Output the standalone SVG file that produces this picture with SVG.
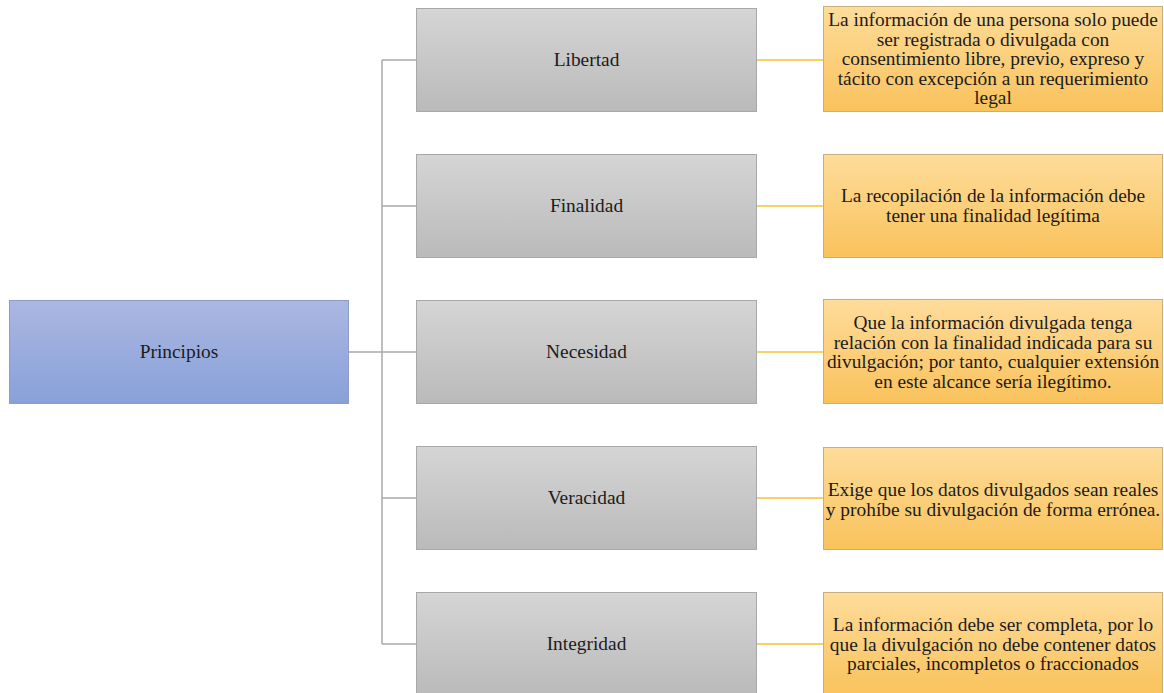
<svg xmlns="http://www.w3.org/2000/svg" width="1164" height="693" viewBox="0 0 1164 693">
<defs>
<linearGradient id="gBlue" x1="0" y1="0" x2="0" y2="1"><stop offset="0" stop-color="#abb7e2"/><stop offset="1" stop-color="#88a1d8"/></linearGradient>
<linearGradient id="gGray" x1="0" y1="0" x2="0" y2="1"><stop offset="0" stop-color="#d5d5d5"/><stop offset="1" stop-color="#bababa"/></linearGradient>
<linearGradient id="gOrange" x1="0" y1="0" x2="0" y2="1"><stop offset="0" stop-color="#fedc9a"/><stop offset="1" stop-color="#f9c25c"/></linearGradient>
</defs>
<style>
.t{font-family:"Liberation Serif","Times New Roman",serif;font-size:19.4px;fill:#1c1c1c;text-anchor:middle}
.blue{fill:url(#gBlue);stroke:#8d9dc6;stroke-width:1}
.gray{fill:url(#gGray);stroke:#a8a8a8;stroke-width:1}
.orange{fill:url(#gOrange);stroke:#c9ae7c;stroke-width:1}
.cg{stroke:#a9a9a9;stroke-width:1.5;fill:none}
.cy{stroke:#f4c232;stroke-width:1.5;fill:none}
</style>
<rect width="1164" height="693" fill="#ffffff"/>
<g id="connectors">
<path class="cg" d="M348 352H416M382 60V644M382 60H416M382 206H416M382 498H416M382 644H416"/>
<path class="cy" d="M757 60H823M757 206H823M757 352H823M757 498H823M757 644H823"/>
</g>
<g id="principios"><rect class="blue" x="9.5" y="300.5" width="339" height="103"/><text class="t" font-family="Liberation Serif, serif" x="179" y="358">Principios</text></g>
<g id="libertad"><rect class="gray" x="416.5" y="8.5" width="340" height="103"/><text class="t" x="586.5" y="66">Libertad</text></g>
<g id="finalidad"><rect class="gray" x="416.5" y="154.5" width="340" height="103"/><text class="t" x="586.5" y="212">Finalidad</text></g>
<g id="necesidad"><rect class="gray" x="416.5" y="300.5" width="340" height="103"/><text class="t" x="586.5" y="358">Necesidad</text></g>
<g id="veracidad"><rect class="gray" x="416.5" y="446.5" width="340" height="103"/><text class="t" x="586.5" y="504">Veracidad</text></g>
<g id="integridad"><rect class="gray" x="416.5" y="592.5" width="340" height="103"/><text class="t" x="586.5" y="650">Integridad</text></g>
<g id="desc-libertad"><rect class="orange" x="823.5" y="6.5" width="339" height="105"/>
<text class="t"><tspan x="993" y="26">La información de una persona solo puede</tspan><tspan x="993" y="45.5">ser registrada o divulgada con</tspan><tspan x="993" y="65">consentimiento libre, previo, expreso y</tspan><tspan x="993" y="84.5">tácito con excepción a un requerimiento</tspan><tspan x="993" y="104">legal</tspan></text></g>
<g id="desc-finalidad"><rect class="orange" x="823.5" y="154.5" width="339" height="103"/>
<text class="t"><tspan x="993" y="202">La recopilación de la información debe</tspan><tspan x="993" y="221.5">tener una finalidad legítima</tspan></text></g>
<g id="desc-necesidad"><rect class="orange" x="823.5" y="299.5" width="339" height="104"/>
<text class="t"><tspan x="993" y="329">Que la información divulgada tenga</tspan><tspan x="993" y="348.5">relación con la finalidad indicada para su</tspan><tspan x="993" y="368">divulgación; por tanto, cualquier extensión</tspan><tspan x="993" y="387.5">en este alcance sería ilegítimo.</tspan></text></g>
<g id="desc-veracidad"><rect class="orange" x="823.5" y="447.5" width="339" height="102"/>
<text class="t"><tspan x="993" y="496">Exige que los datos divulgados sean reales</tspan><tspan x="993" y="515.5">y prohíbe su divulgación de forma errónea.</tspan></text></g>
<g id="desc-integridad"><rect class="orange" x="823.5" y="592.5" width="339" height="103"/>
<text class="t"><tspan x="993" y="631">La información debe ser completa, por lo</tspan><tspan x="993" y="650.5">que la divulgación no debe contener datos</tspan><tspan x="993" y="670">parciales, incompletos o fraccionados</tspan></text></g>
</svg>
